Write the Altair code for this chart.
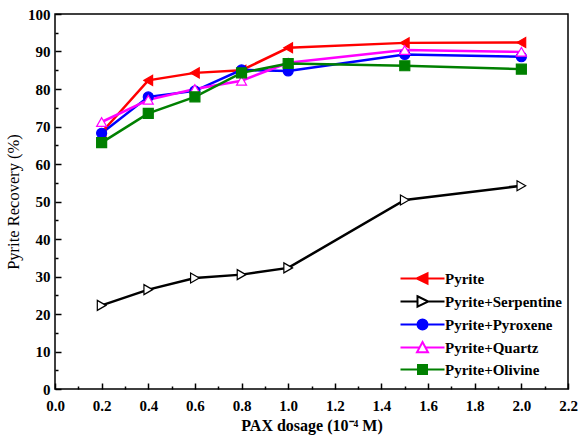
import altair as alt
import pandas as pd

# ---- data ----
dosage = [0.2, 0.4, 0.6, 0.8, 1.0, 1.5, 2.0]
series_names = ["Pyrite", "Pyrite+Serpentine", "Pyrite+Pyroxene", "Pyrite+Quartz", "Pyrite+Olivine"]
pyrite = [68.4, 82.3, 84.3, 85.0, 91.0, 92.3, 92.4]
serpentine = [22.3, 26.5, 29.6, 30.5, 32.3, 50.4, 54.2]
pyroxene = [68.2, 77.9, 79.5, 85.1, 84.8, 89.2, 88.6]
quartz = [71.2, 77.1, 80.0, 82.2, 87.0, 90.4, 89.9]
olivine = [65.7, 73.5, 77.9, 84.3, 86.8, 86.2, 85.3]

x_major = [0.0, 0.2, 0.4, 0.6, 0.8, 1.0, 1.2, 1.4, 1.6, 1.8, 2.0, 2.2]
x_minor = [0.1, 0.3, 0.5, 0.7, 0.9, 1.1, 1.3, 1.5, 1.7, 1.9, 2.1]
y_major = [0, 10, 20, 30, 40, 50, 60, 70, 80, 90, 100]
y_minor = [5, 15, 25, 35, 45, 55, 65, 75, 85, 95]

line_colors = ["#ff0000", "#000000", "#0000ff", "#ff00ff", "#008000"]
fill_colors = ["#ff0000", "#ffffff", "#0000ff", "#ffffff", "#008000"]
point_shapes = ["triangle-left", "triangle-right", "circle", "triangle-up", "square"]
legend_shapes = [
    "M-4.4,0L4.4,0M-1.15,0L1,-1.05L1,1.05Z",
    "M-4.4,0L-1,0M1.15,0L4.4,0M-1,-1.05L1.15,0L-1,1.05Z",
    "M-4.4,0L4.4,0M-1,0A1,1,0,1,1,1,0A1,1,0,1,1,-1,0Z",
    "M-4.4,0L-0.55,0M0.55,0L4.4,0M0,-1.1L1.1,0.95L-1.1,0.95Z",
    "M-4.4,0L4.4,0M-0.9,-0.9L0.9,-0.9L0.9,0.9L-0.9,0.9Z",
]

values = [pyrite, serpentine, pyroxene, quartz, olivine]
rows = []
for name, vals in zip(series_names, values):
    for xv, yv in zip(dosage, vals):
        rows.append({"dose": xv, "rec": yv, "series": name})
df = pd.DataFrame(rows)

FONT = "Liberation Serif"

xs = alt.Scale(domain=[0, 2.2], nice=False, zero=False)
ys = alt.Scale(domain=[0, 100], nice=False)

color_scale = alt.Scale(domain=series_names, range=line_colors)
fill_scale = alt.Scale(domain=series_names, range=fill_colors)
shape_pts = alt.Scale(domain=series_names, range=point_shapes)
shape_leg = alt.Scale(domain=series_names, range=legend_shapes)


def tick_axis(orient, vals, size):
    return alt.Axis(orient=orient, values=vals, labels=False, domain=False, grid=False,
                    ticks=True, tickSize=size, tickWidth=1.5, tickColor="black",
                    offset=-size, title=None, zindex=2)


base = alt.Chart(df)

lines = base.mark_line(strokeWidth=2.5).encode(
    x=alt.X("dose:Q", scale=xs, axis=alt.Axis(
        orient="bottom", values=x_major, format=".1f", ticks=False, tickSize=0, domain=False,
        grid=False, labelFont=FONT, labelFontWeight="bold", labelFontSize=15, labelColor="black",
        labelPadding=9, labelFlush=False, title="PAX dosage (10\u207B\u2074 M)", titleFont=FONT,
        titleFontSize=16, titleFontWeight="bold", titleColor="black", titlePadding=4)),
    y=alt.Y("rec:Q", scale=ys, axis=alt.Axis(
        orient="left", values=y_major, format="d", ticks=False, tickSize=0, domain=False,
        grid=False, labelFont=FONT, labelFontWeight="bold", labelFontSize=15, labelColor="black",
        labelPadding=5, labelFlush=False, title="Pyrite Recovery (%)", titleFont=FONT,
        titleFontSize=16.5, titleFontWeight="normal", titleColor="black", titlePadding=6)),
    color=alt.Color("series:N", scale=color_scale, legend=None, sort=series_names),
    detail="series:N",
)

points = base.mark_point(filled=True, strokeWidth=1.2, opacity=1).encode(
    x=alt.X("dose:Q", scale=xs, axis=tick_axis("bottom", x_major, 6)),
    y=alt.Y("rec:Q", scale=ys, axis=tick_axis("left", y_major, 6)),
    fill=alt.Fill("series:N", scale=fill_scale, legend=None),
    stroke=alt.Stroke("series:N", scale=color_scale, legend=None),
    shape=alt.Shape("series:N", scale=shape_pts, legend=None),
    size=alt.value(100),
)

legend_props = dict(
    title=None, orient="none", legendX=360, legendY=257, padding=0,
    labelFont=FONT, labelFontWeight="bold", labelFontSize=15, labelColor="black",
    labelOffset=15, rowPadding=4, symbolSize=100, symbolStrokeWidth=2,
)

legend_layer = base.mark_point(filled=True, strokeWidth=2, opacity=1).encode(
    x=alt.X("dose:Q", scale=xs, axis=tick_axis("bottom", x_minor, 3)),
    y=alt.Y("rec:Q", scale=ys, axis=tick_axis("left", y_minor, 3)),
    fill=alt.Fill("series:N", scale=fill_scale, legend=alt.Legend(**legend_props)),
    stroke=alt.Stroke("series:N", scale=color_scale, legend=alt.Legend(**legend_props)),
    shape=alt.Shape("series:N", scale=shape_leg, legend=alt.Legend(**legend_props)),
    size=alt.value(100),
).transform_filter(alt.datum.dose < 0)

chart = alt.layer(lines, points, legend_layer).resolve_scale(
    shape="independent", fill="independent", stroke="independent", color="independent"
).resolve_axis(x="independent", y="independent").properties(
    width=513, height=375,
    autosize=alt.AutoSizeParams(type="none"),
    padding={"left": 55, "top": 14, "right": 14, "bottom": 48},
    background="white",
).configure_view(stroke="black", strokeWidth=1.5)

chart.save("out.html", embed_options={"renderer": "svg", "actions": False})
